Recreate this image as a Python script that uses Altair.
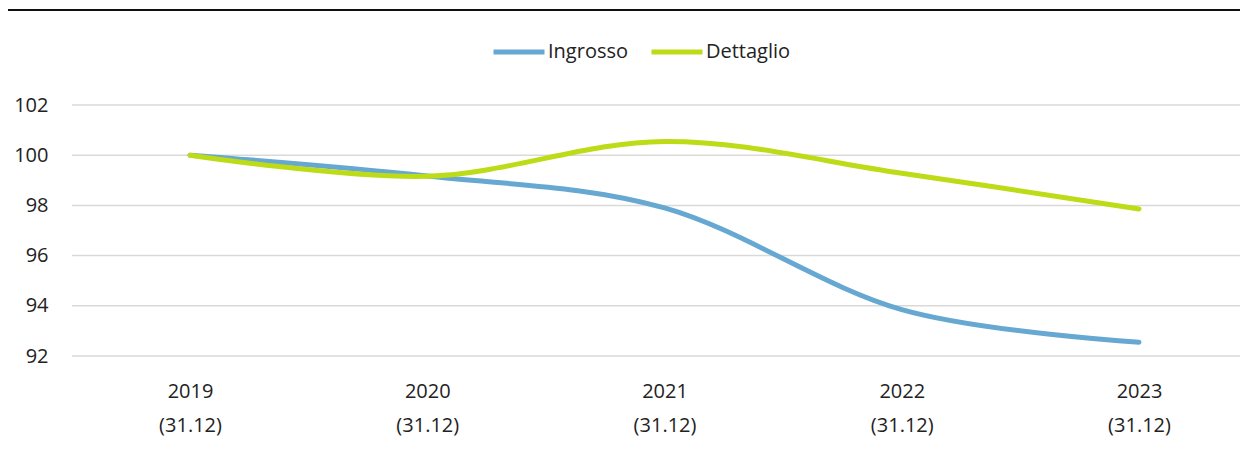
import altair as alt
import pandas as pd

years = ["2019", "2020", "2021", "2022", "2023"]
ingrosso = [100.0, 99.17, 97.9, 93.85, 92.55]
dettaglio = [100.0, 99.16, 100.55, 99.28, 97.86]
series_names = ["Ingrosso", "Dettaglio"]
series_colors = ["#66a8d1", "#bddb17"]
y_ticks = [92, 94, 96, 98, 100, 102]

rows = []
for name, vals in zip(series_names, [ingrosso, dettaglio]):
    for y, v in zip(years, vals):
        rows.append({"anno": y, "serie": name, "valore": v})
df = pd.DataFrame(rows)
grid_df = pd.DataFrame({"valore": y_ticks})

FONT = "Open Sans"
W, H = 1168, 251
yscale = alt.Scale(domain=[92, 102], nice=False, zero=False)
yaxis = alt.Axis(title=None, values=y_ticks, ticks=False, domain=False,
                 grid=False, labelFontSize=20, labelFont=FONT,
                 labelColor="#222222", labelPadding=24)

grid = alt.Chart(grid_df).mark_rule(color="#d9d9d9", strokeWidth=1.5).encode(
    y=alt.Y("valore:Q", scale=yscale, axis=yaxis),
    x=alt.value(0), x2=alt.value(W),
)

lines = alt.Chart(df).mark_line(
    interpolate="cardinal", tension=0, strokeWidth=5, strokeCap="round"
).encode(
    x=alt.X("anno:O", sort=years,
            scale=alt.Scale(type="point", range=[118, 1067], padding=0),
            axis=alt.Axis(title=None, labelExpr="[datum.label, '(31.12)']",
                          labelAngle=0, ticks=False, domain=False, grid=False,
                          labelFontSize=20, labelFont=FONT, labelColor="#222222",
                          labelPadding=25, labelLineHeight=34)),
    y=alt.Y("valore:Q", scale=yscale, axis=yaxis),
    color=alt.Color("serie:N", sort=series_names,
                    scale=alt.Scale(domain=series_names, range=series_colors),
                    legend=alt.Legend(title=None, orient="none", direction="horizontal",
                                      legendX=419, legendY=-81,
                                      symbolType="stroke", symbolSize=2601,
                                      symbolStrokeWidth=5, labelFontSize=20,
                                      labelFont=FONT, labelColor="#222222",
                                      labelOffset=1, columnPadding=12)),
    order=alt.Order("serie:N", sort="descending"),
)

top_rule = alt.Chart(grid_df).mark_rule(color="#111111", strokeWidth=1.5).encode(
    x=alt.value(-64), x2=alt.value(W), y=alt.value(-95)
)

chart = alt.layer(grid, top_rule, lines).properties(
    width=W, height=H,
    autosize=alt.AutoSizeParams(type="none"),
    padding={"left": 64, "top": 97, "right": 0, "bottom": 90},
).resolve_axis(y="shared").configure_view(stroke=None)

chart.save("out.html", embed_options={"renderer": "svg", "actions": False})
